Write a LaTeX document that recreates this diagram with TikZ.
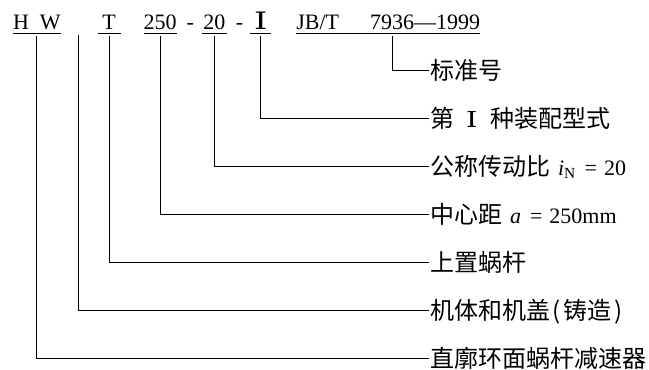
\documentclass[tikz,border=0pt]{standalone}
\usepackage{fontspec}
\setmainfont{Liberation Serif}
\newfontfamily\cjk{Noto Sans CJK SC}
\newfontfamily\numfont{DejaVu Serif}
\usetikzlibrary{positioning}
\newcommand\lat[1]{{\rmfamily\fontsize{22bp}{26bp}\selectfont #1}}

\begin{document}
\begin{tikzpicture}[x=1bp,y=1bp,line width=0.9bp]
                \tikzset{code/.style={inner xsep=0pt, inner ysep=7bp, outer sep=0pt, text height=15bp, text depth=0pt, font=\fontsize{22bp}{26bp}\selectfont},
                         note/.style={inner xsep=1bp, inner ysep=0pt, outer sep=0pt, text height=21bp, text depth=3bp, font=\fontsize{24bp}{28bp}\cjk}}
                \useasboundingbox (0,0) rectangle (649,-369);

                \node[code, minimum width=47bp, anchor=base west] (hw) at (13,-29) {H\enspace W};
                \node[code, minimum width=23bp] (t) [base right=37bp of hw] {T};
                \node[code, minimum width=33bp] (ca) [base right=23bp of t] {250};
                \node[code] (dash1) [base right=10bp of ca] {-};
                \node[code, minimum width=25bp] (ratio) [base right=8bp of dash1] {20};
                \node[code] (dash2) [base right=9bp of ratio] {-};
                \node[code, minimum width=21bp] (asm) [base right=7bp of dash2] {\scalebox{1.4}[1]{\numfont\fontsize{24bp}{28bp}\selectfont Ⅰ}};
                \node[code] (jbt) [base right=25bp of asm] {JB/T};
                \node[code] (stdno) [base right=31bp of jbt] {7936};
                \node[code] (year) [base right=0bp of stdno] {—1999};

                \node[note, anchor=west] (lstd) at (429,-70) {标准号};
                \node[note, below=24bp of lstd.south west, anchor=north west] (lasm) {第\hspace{12bp}\scalebox{1.3}[1]{\numfont\fontsize{22bp}{26bp}\selectfont Ⅰ}\hspace{13bp}种装配型式};
                \node[note, below=24bp of lasm.south west, anchor=north west] (lratio) {公称传动比\lat{\hspace{8bp}\textit{i}\textsubscript{N}\hspace{9bp}=\hspace{7bp}20}};
                \node[note, below=24bp of lratio.south west, anchor=north west] (lca) {中心距\lat{\hspace{8bp}\textit{a}\hspace{9bp}=\hspace{7bp}250mm}};
                \node[note, below=24bp of lca.south west, anchor=north west] (lworm) {上置蜗杆};
                \node[note, below=24bp of lworm.south west, anchor=north west] (lbody) {机体和机盖\hspace{2bp}(\hspace{3bp}铸造\hspace{3bp})};
                \node[note, below=24bp of lbody.south west, anchor=north west] (lhw) {直廓环面蜗杆减速器};
                \coordinate (blank) at (78,-35);

                \foreach \n in {hw,t,ca,ratio,asm}
                    \draw ([yshift=-4.5bp]\n.base west) -- ([yshift=-4.5bp]\n.base east);
                \draw ([yshift=-4.5bp]jbt.base west) -- ([yshift=-4.5bp]year.base east);

                \draw (stdno.south) |- (lstd.west);
                \draw (asm.south)   |- (lasm.west);
                \draw (ratio.south) |- (lratio.west);
                \draw (ca.south)    |- (lca.west);
                \draw (t.south)     |- (lworm.west);
                \draw (blank)       |- (lbody.west);
                \draw (hw.south)    |- (lhw.west);
\end{tikzpicture}
\end{document}
